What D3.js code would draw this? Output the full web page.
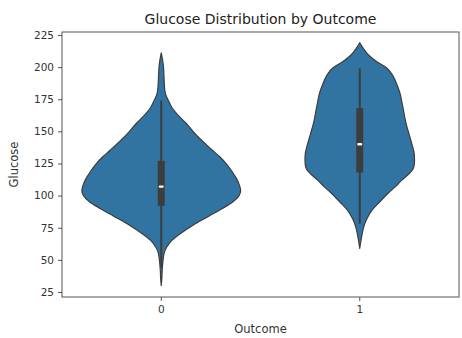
<!DOCTYPE html>
<html>
<head>
<meta charset="utf-8">
<script src="https://cdn.jsdelivr.net/npm/d3@7"></script>
<style>
  html, body { margin: 0; padding: 0; background: #fff; }
  svg { display: block; font-family: "DejaVu Sans", sans-serif; }
</style>
</head>
<body>
<svg id="chart" width="462" height="338"></svg>
<script>
// Outcome groups
const categories = ["0", "1"];

// Kernel density profile of Glucose for each outcome (value, relative density)
const glucose0 = [30, 36, 42, 48, 53, 56, 60, 65.5, 70, 77, 84, 90, 95, 100, 104, 108, 113, 118, 124, 130, 135.5, 140, 145, 150, 156.5, 162, 168, 174, 178, 182, 188, 195, 200, 205, 211];
const density0 = [0, 0.008, 0.012, 0.02, 0.03, 0.04, 0.07, 0.14, 0.23, 0.4, 0.6, 0.77, 0.9, 0.98, 1.0, 0.985, 0.95, 0.9, 0.83, 0.74, 0.64, 0.56, 0.475, 0.4, 0.31, 0.22, 0.14, 0.09, 0.06, 0.045, 0.038, 0.033, 0.028, 0.018, 0];

const glucose1 = [59, 65, 70, 75.6, 82, 89, 95, 102, 107, 112, 117, 122, 127.7, 133, 139.4, 148, 157, 165, 173, 180, 186, 193, 199.3, 204, 209.4, 215, 219];
const density1 = [0, 0.015, 0.03, 0.05, 0.09, 0.16, 0.25, 0.36, 0.45, 0.53, 0.62, 0.68, 0.69, 0.685, 0.66, 0.62, 0.58, 0.555, 0.53, 0.505, 0.47, 0.42, 0.34, 0.22, 0.11, 0.04, 0];

// Box summaries: [whisker low, Q1, median, Q3, whisker high]
const box0 = [44, 92, 107, 127, 174];
const box1 = [78, 118, 140, 168, 199];

const yTicks = [25, 50, 75, 100, 125, 150, 175, 200, 225];

const groups = [
  { key: categories[0], values: glucose0, dens: density0, box: box0 },
  { key: categories[1], values: glucose1, dens: density1, box: box1 }
];

const svg = d3.select("#chart");
const margin = { left: 62, right: 3, top: 32, bottom: 41 };
const W = 462, H = 338;
const x0 = margin.left, x1 = W - margin.right;
const y0 = margin.top, y1 = H - margin.bottom;

const x = d3.scaleBand().domain(categories).range([x0, x1]).padding(0);
const y = d3.scaleLinear().domain([21.1, 227.3]).range([y1, y0]);
const halfW = d3.scaleLinear().domain([0, 1]).range([0, x.bandwidth() * 0.8 / 2]);

const fill = "#3274a1";
const edge = "#3d3d3d";

// Violins
groups.forEach(g => {
  const cx = x(g.key) + x.bandwidth() / 2;
  const pts = g.values.map((v, i) => [v, g.dens[i]]);
  const area = d3.area()
    .y(d => y(d[0]))
    .x0(d => cx - halfW(d[1]))
    .x1(d => cx + halfW(d[1]))
    .curve(d3.curveMonotoneY);
  svg.append("path")
    .attr("d", area(pts))
    .attr("fill", fill)
    .attr("stroke", edge)
    .attr("stroke-width", 1.2)
    .attr("stroke-linejoin", "round");

  // Inner box
  const [lo, q1, med, q3, hi] = g.box;
  svg.append("line")
    .attr("x1", cx).attr("x2", cx)
    .attr("y1", y(lo)).attr("y2", y(hi))
    .attr("stroke", edge).attr("stroke-width", 2);
  svg.append("rect")
    .attr("x", cx - 3.5).attr("width", 7)
    .attr("y", y(q3)).attr("height", y(q1) - y(q3))
    .attr("fill", edge);
  svg.append("rect")
    .attr("x", cx - 2.5).attr("width", 5)
    .attr("y", y(med) - 1.2).attr("height", 2.4)
    .attr("rx", 1)
    .attr("fill", "#ffffff");
});

// Frame
svg.append("rect")
  .attr("x", x0).attr("y", y0)
  .attr("width", x1 - x0).attr("height", y1 - y0)
  .attr("fill", "none").attr("stroke", "#555").attr("stroke-width", 1);

// Axes
const yAxis = d3.axisLeft(y).tickValues(yTicks).tickSize(4).tickPadding(4);
const gy = svg.append("g").attr("transform", `translate(${x0},0)`).call(yAxis);
const xAxis = d3.axisBottom(x).tickSize(4).tickPadding(5);
const gx = svg.append("g").attr("transform", `translate(0,${y1})`).call(xAxis);
[gy, gx].forEach(g => {
  g.select(".domain").remove();
  g.selectAll(".tick line").attr("stroke", "#555");
  g.selectAll(".tick text").attr("fill", "#333").style("font-size", "10.5px")
    .style("font-family", "DejaVu Sans, sans-serif");
});

// Titles
svg.append("text")
  .attr("x", (x0 + x1) / 2).attr("y", 24)
  .attr("text-anchor", "middle")
  .attr("fill", "#222")
  .style("font-size", "14px")
  .text("Glucose Distribution by Outcome");

svg.append("text")
  .attr("x", (x0 + x1) / 2).attr("y", 333)
  .attr("text-anchor", "middle")
  .attr("fill", "#333")
  .style("font-size", "11.5px")
  .text("Outcome");

svg.append("text")
  .attr("transform", `translate(18,${(y0 + y1) / 2}) rotate(-90)`)
  .attr("text-anchor", "middle")
  .attr("fill", "#333")
  .style("font-size", "11.5px")
  .text("Glucose");
</script>
</body>
</html>
